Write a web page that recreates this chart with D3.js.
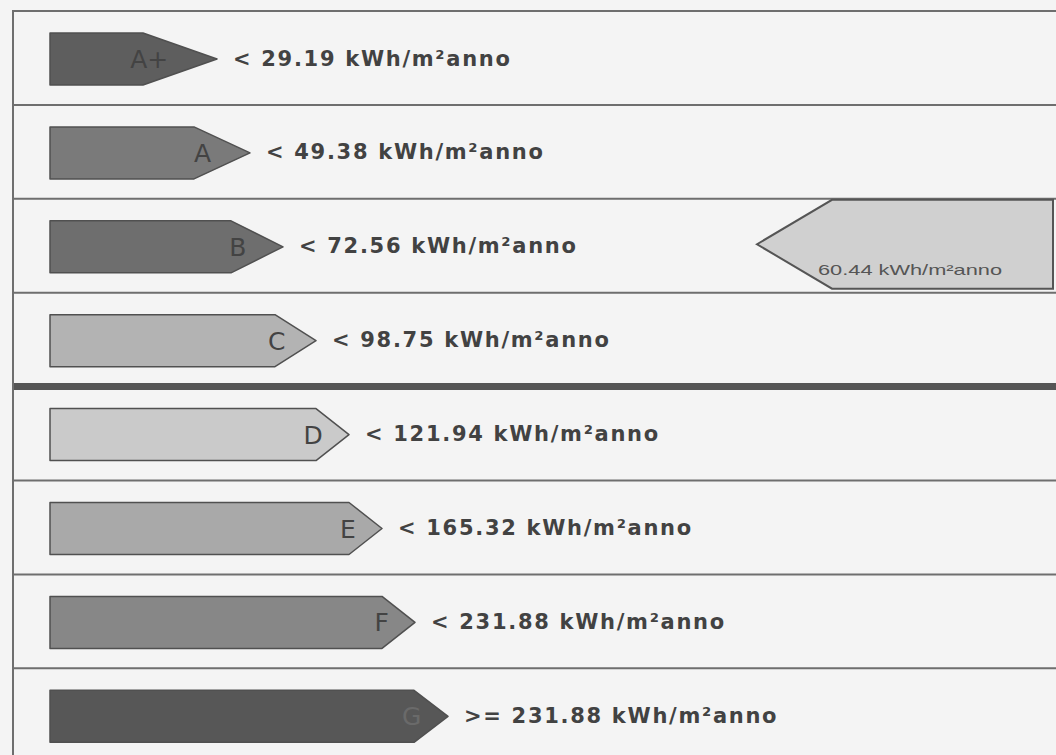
<!DOCTYPE html>
<html>
<head>
<meta charset="utf-8">
<script src="https://cdn.jsdelivr.net/npm/d3@7"></script>
<style>
  html, body { margin: 0; padding: 0; background: #f4f4f4; }
  svg { display: block; }
</style>
</head>
<body>
<div id="chart"></div>
<script>
/**
 * DATA
 * */
const classes = ["A+", "A", "B", "C", "D", "E", "F", "G"];
const limits = [29.19, 49.38, 72.56, 98.75, 121.94, 165.32, 231.88, 231.88];
const operators = ["<", "<", "<", "<", "<", "<", "<", ">="];
const fills = ["#5e5e5e", "#7a7a7a", "#6e6e6e", "#b3b3b3", "#cacaca", "#a9a9a9", "#878787", "#575757"];
const unit = "kWh/m²anno";
const buildingValue = 60.44;

/**
 * CONSTANTS
 * */
const width = 1056,
  height = 755,
  margin = { top: 11, left: 13 };

const rowStep = 93.9;
const arrowH = 52;
const headLen = [74, 56, 52, 41, 33, 33, 33, 34];

const svg = d3.select("#chart")
  .append("svg")
  .attr("width", width)
  .attr("height", height);

svg.append("rect")
  .attr("width", width).attr("height", height)
  .attr("fill", "#f4f4f4");

// rows
const y = d3.scaleBand()
  .domain(classes)
  .range([margin.top, margin.top + rowStep * classes.length])
  .paddingInner(0);

// tip of each arrow grows with class index
const tipX = d3.scaleLinear()
  .domain([0, classes.length - 1])
  .range([217, 448]);

const arrowLeft = 50;

// row separators
svg.append("g")
  .selectAll("line")
  .data(classes)
  .join("line")
    .attr("x1", margin.left).attr("x2", width)
    .attr("y1", d => y(d)).attr("y2", d => y(d))
    .attr("stroke", d => d === "D" ? "#555" : "#6e6e6e")
    .attr("stroke-width", d => d === "D" ? 7 : 2);

// left border
svg.append("line")
  .attr("x1", margin.left).attr("x2", margin.left)
  .attr("y1", margin.top - 1).attr("y2", height)
  .attr("stroke", "#6e6e6e")
  .attr("stroke-width", 2);

// class arrows
const rows = svg.append("g")
  .selectAll("g")
  .data(classes)
  .join("g")
    .attr("transform", d => `translate(0,${y(d) + 22})`);

rows.append("path")
  .attr("d", (d, i) => {
    const tip = tipX(i), neck = tip - headLen[i];
    return `M${arrowLeft},0 L${neck},0 L${tip},${arrowH / 2} L${neck},${arrowH} L${arrowLeft},${arrowH} Z`;
  })
  .attr("fill", (d, i) => fills[i])
  .attr("stroke", "#505050")
  .attr("stroke-width", 1.5)
  .attr("stroke-linejoin", "round");

rows.append("text")
  .attr("x", (d, i) => tipX(i) - headLen[i] * 0.55 - 8)
  .attr("y", arrowH / 2)
  .attr("dy", "0.36em")
  .attr("text-anchor", "end")
  .attr("font-family", "Tahoma, 'DejaVu Sans', sans-serif")
  .attr("font-size", 25)
  .attr("fill", (d, i) => i === 7 ? "#6a6a6a" : "#434343")
  .text(d => d);

rows.append("text")
  .attr("x", (d, i) => tipX(i) + 16)
  .attr("y", arrowH / 2 - 1)
  .attr("dy", "0.36em")
  .attr("font-family", "'DejaVu Sans', Verdana, sans-serif")
  .attr("font-weight", "bold")
  .attr("font-size", 21)
  .attr("letter-spacing", 1.7)
  .attr("fill", "#424242")
  .text((d, i) => `${operators[i]} ${limits[i].toFixed(2)} ${unit}`);

// building indicator
const idx = limits.findIndex((l, i) => operators[i] === "<" ? buildingValue < l : true);
const indTop = y(classes[idx]) + 1, indBot = y(classes[idx]) + y.bandwidth() - 4;
const ind = svg.append("g");
ind.append("path")
  .attr("d", `M757,${(indTop + indBot) / 2} L832,${indTop} L1053,${indTop} L1053,${indBot} L832,${indBot} Z`)
  .attr("fill", "#d0d0d0")
  .attr("stroke", "#555")
  .attr("stroke-width", 2);

ind.append("text")
  .attr("x", 818)
  .attr("y", indBot - 14)
  .attr("font-family", "'Liberation Sans', Arial, sans-serif")
  .attr("font-size", 15)
  .attr("textLength", 184)
  .attr("lengthAdjust", "spacingAndGlyphs")
  .attr("fill", "#555")
  .text(`${buildingValue.toFixed(2)} ${unit}`);
</script>
</body>
</html>
